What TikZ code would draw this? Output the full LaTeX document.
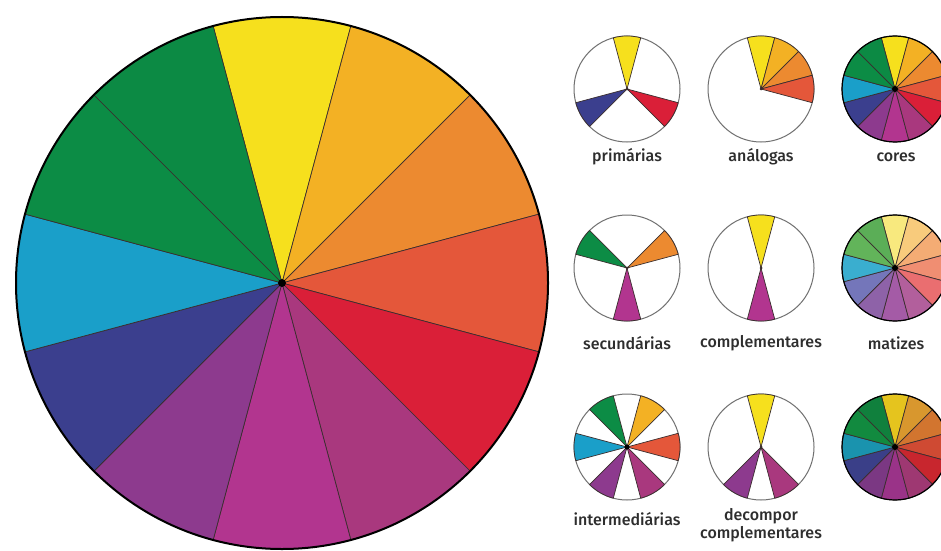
\documentclass[tikz,border=0pt]{standalone}
\usepackage{fontspec}
\setmainfont{Fira Sans}[UprightFont=* Medium]
\definecolor{cY}{HTML}{F6E01D}
\definecolor{cYO}{HTML}{F3B124}
\definecolor{cO}{HTML}{EC8A30}
\definecolor{cRO}{HTML}{E4573A}
\definecolor{cR}{HTML}{DA1F38}
\definecolor{cRV}{HTML}{A9387E}
\definecolor{cM}{HTML}{B2358F}
\definecolor{cP}{HTML}{8D3A8E}
\definecolor{cB}{HTML}{3B3F8E}
\definecolor{cC}{HTML}{1A9FC9}
\definecolor{cG}{HTML}{0C8C45}
\definecolor{cGb}{HTML}{0C8A44}
% tints
\definecolor{tY}{HTML}{F8E97E}
\definecolor{tYO}{HTML}{F8CB7C}
\definecolor{tO}{HTML}{F4AC74}
\definecolor{tRO}{HTML}{F08E72}
\definecolor{tR}{HTML}{EA6E70}
\definecolor{tRV}{HTML}{B25F9C}
\definecolor{tM}{HTML}{A45BA6}
\definecolor{tP}{HTML}{8E62A8}
\definecolor{tB}{HTML}{7476BA}
\definecolor{tC}{HTML}{3AAECF}
\definecolor{tG}{HTML}{62B45A}
\definecolor{tGb}{HTML}{5BAE57}
% shades
\definecolor{sY}{HTML}{E5C41E}
\definecolor{sYO}{HTML}{D8972E}
\definecolor{sO}{HTML}{D2752F}
\definecolor{sRO}{HTML}{CF4A33}
\definecolor{sR}{HTML}{C8262E}
\definecolor{sRV}{HTML}{9E3872}
\definecolor{sM}{HTML}{9A3388}
\definecolor{sP}{HTML}{7B3883}
\definecolor{sB}{HTML}{3A3F88}
\definecolor{sC}{HTML}{1A93AE}
\definecolor{sG}{HTML}{128A3F}
\definecolor{sGb}{HTML}{10803D}
\definecolor{linec}{HTML}{3A2E2E}
\definecolor{rimc}{HTML}{707070}
\definecolor{labc}{HTML}{2E2E2E}
\tikzset{
  lab/.style={font=\fontsize{16}{17}\selectfont, text=labc, inner sep=0pt, align=center},
  seg/.style={draw=linec, line width=0.7pt, line join=round},
  rim/.style={draw=rimc, line width=1pt, fill=white},
}
% \sect{center}{angle}{radius}{color}
\newcommand{\sect}[4]{\filldraw[seg, fill=#4] (#1) -- ++({#2+15}:#3) arc[start angle={#2+15}, end angle={#2-15}, radius=#3] -- cycle;}
\newcommand{\fullwheel}[4]{% center, radius, prefix, dot
  \foreach \a/\c in {90/Y,60/YO,30/O,0/RO,-30/R,-60/RV,-90/M,-120/P,-150/B,180/C,150/G,120/Gb}{\sect{#1}{\a}{#2}{#3\c}}
  \draw[black, line width=1.2pt] (#1) circle[radius=#2];
  \fill[black] (#1) circle[radius=#4];
}
\begin{document}
\begin{tikzpicture}[x=1pt,y=1pt]
\useasboundingbox (0,0) rectangle (941,550);
\fill[white] (0,0) rectangle (941,550);
% big wheel
\coordinate (big) at (282,267);
\foreach \a/\c in {90/cY,60/cYO,30/cO,0/cRO,-30/cR,-60/cRV,-90/cM,-120/cP,-150/cB,180/cC,150/cG,120/cGb}{\sect{big}{\a}{266}{\c}}
\draw[black, line width=2pt] (big) circle[radius=266];
\fill[black] (big) circle[radius=4];
% small wheels
\coordinate (w11) at (627,461);
\coordinate (w12) at (761,461);
\coordinate (w13) at (895,461);
\coordinate (w21) at (627,282);
\coordinate (w22) at (761,282);
\coordinate (w23) at (895,282);
\coordinate (w31) at (627,103);
\coordinate (w32) at (761,103);
\coordinate (w33) at (895,103);
% primarias
\draw[rim] (w11) circle[radius=53];
\sect{w11}{90}{53}{cY}\sect{w11}{-30}{53}{cR}\sect{w11}{210}{53}{cB}
\fill[linec] (w11) circle[radius=1.5];
% analogas
\draw[rim] (w12) circle[radius=53];
\sect{w12}{90}{53}{cY}\sect{w12}{60}{53}{cYO}\sect{w12}{30}{53}{cO}\sect{w12}{0}{53}{cRO}
\fill[linec] (w12) circle[radius=1.5];
% cores
\fullwheel{w13}{53}{c}{3}
% secundarias
\draw[rim] (w21) circle[radius=53];
\sect{w21}{30}{53}{cO}\sect{w21}{-90}{53}{cM}\sect{w21}{150}{53}{cG}
\fill[linec] (w21) circle[radius=1.5];
% complementares
\draw[rim] (w22) circle[radius=53];
\sect{w22}{90}{53}{cY}\sect{w22}{-90}{53}{cM}
\fill[linec] (w22) circle[radius=1.5];
% matizes
\fullwheel{w23}{53}{t}{3}
% intermediarias
\draw[rim] (w31) circle[radius=53];
\sect{w31}{60}{53}{cYO}\sect{w31}{0}{53}{cRO}\sect{w31}{-60}{53}{cRV}\sect{w31}{-120}{53}{cP}\sect{w31}{180}{53}{cC}\sect{w31}{120}{53}{cG}
\fill[black] (w31) circle[radius=2.5];
% decompor complementares
\draw[rim] (w32) circle[radius=53];
\sect{w32}{90}{53}{cY}\sect{w32}{-60}{53}{cRV}\sect{w32}{-120}{53}{cP}
\fill[linec] (w32) circle[radius=1.5];
% shades
\fullwheel{w33}{53}{s}{3}
% labels
\node[lab] (l11) at (627,393) {primárias};
\node[lab] (l12) at (761,393) {análogas};
\node[lab] (l13) at (896,393) {cores};
\node[lab] (l21) at (627,207) {secundárias};
\node[lab] (l22) at (761,207) {complementares};
\node[lab] (l23) at (896,207) {matizes};
\node[lab] (l31) at (627,31) {intermediárias};
\node[lab, font=\fontsize{16}{18}\selectfont] (l32) at (761,25) {decompor\\complementares};
\end{tikzpicture}
\end{document}
